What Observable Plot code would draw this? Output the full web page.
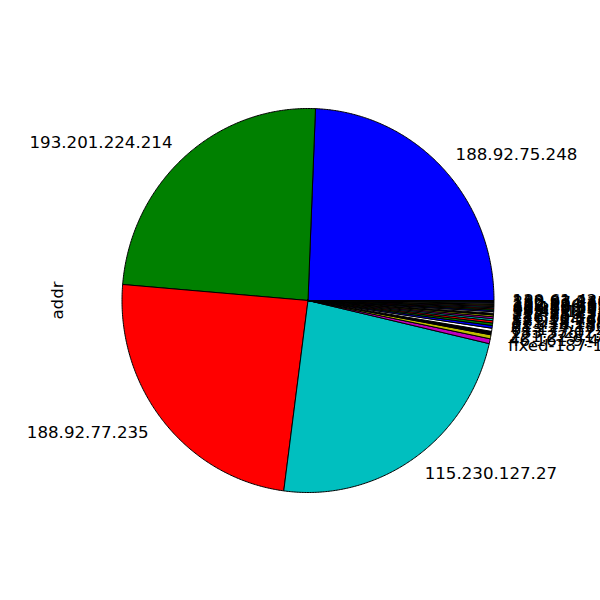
<!DOCTYPE html>
<html><head><meta charset="utf-8">
<script src="https://cdn.jsdelivr.net/npm/d3@7"></script>
<script src="https://cdn.jsdelivr.net/npm/@observablehq/plot@0.6"></script>
<style>html,body{margin:0;padding:0;background:#fff;overflow:hidden}</style>
</head><body><div id="chart"></div>
<script>
const addrs = [
  "188.92.75.248", "193.201.224.214", "188.92.77.235", "115.230.127.27",
  "fixed-187-190-2-201", "46.161.9.41", "221.229.172.44", "183.3.202.105",
  "61.177.172.54", "91.224.160.106", "121.18.238.114", "58.218.199.116",
  "221.194.47.224", "116.31.116.48", "112.85.42.89", "222.186.31.135",
  "59.45.175.66", "185.110.132.89", "43.229.53.87", "61.146.153.85",
  "218.65.30.25", "183.136.190.40", "122.194.229.7", "180.97.215.60",
  "212.83.146.28", "130.61.42.117"
];
const counts = [
  2436, 2431, 2425, 2347,
  41, 34, 29, 26, 23, 21, 19, 17, 16, 15, 14, 13, 12, 11, 10, 10, 9, 9, 8, 8, 8, 8
];
const palette = ["#0000ff", "#008000", "#ff0000", "#00bfbf", "#bf00bf", "#bfbf00", "#000000", "#ffffff"];

const total = d3.sum(counts);
let cum = 0;
const slices = addrs.map((addr, i) => {
  const a0 = cum / total * 2 * Math.PI;
  cum += counts[i];
  const a1 = cum / total * 2 * Math.PI;
  return {addr, i, a0, a1, mid: (a0 + a1) / 2, color: palette[i % palette.length]};
});

const pts = [];
for (const s of slices) {
  const n = Math.max(2, Math.ceil((s.a1 - s.a0) / (Math.PI / 360)));
  pts.push({i: s.i, x: 0, y: 0, color: s.color});
  for (let k = 0; k <= n; k++) {
    const t = s.a0 + (s.a1 - s.a0) * k / n;
    pts.push({i: s.i, x: Math.cos(t), y: Math.sin(t), color: s.color});
  }
  pts.push({i: s.i, x: 0, y: 0, color: s.color});
}

const labelR = 1.1;
const font = "DejaVu Sans, sans-serif";
const fs = 16.67;

const chart = Plot.plot({
  width: 600, height: 600,
  marginLeft: 75, marginRight: 60, marginTop: 60, marginBottom: 60,
  x: {domain: [-1.25, 1.25], axis: null},
  y: {domain: [-1.25, 1.25], axis: null},
  color: {type: "identity"},
  style: {background: "#fff", overflow: "visible"},
  marks: [
    Plot.line(pts, {x: "x", y: "y", z: "i", fill: "color", stroke: "#000", strokeWidth: 1, strokeLinejoin: "miter", curve: "linear"}),
    Plot.text(slices.filter(s => Math.cos(s.mid) >= 0), {
      x: s => labelR * Math.cos(s.mid), y: s => labelR * Math.sin(s.mid),
      text: "addr", textAnchor: "start", lineAnchor: "middle",
      fontSize: fs, fontFamily: font, fill: "#000"
    }),
    Plot.text(slices.filter(s => Math.cos(s.mid) < 0), {
      x: s => labelR * Math.cos(s.mid), y: s => labelR * Math.sin(s.mid),
      text: "addr", textAnchor: "end", lineAnchor: "middle",
      fontSize: fs, fontFamily: font, fill: "#000"
    }),
    Plot.text(["addr"], {frameAnchor: "left", dx: -18, rotate: -90, textAnchor: "middle", lineAnchor: "middle", text: d => d, fontSize: fs, fontFamily: font, fill: "#000"})
  ]
});
document.getElementById("chart").appendChild(chart);
</script>
</body></html>
